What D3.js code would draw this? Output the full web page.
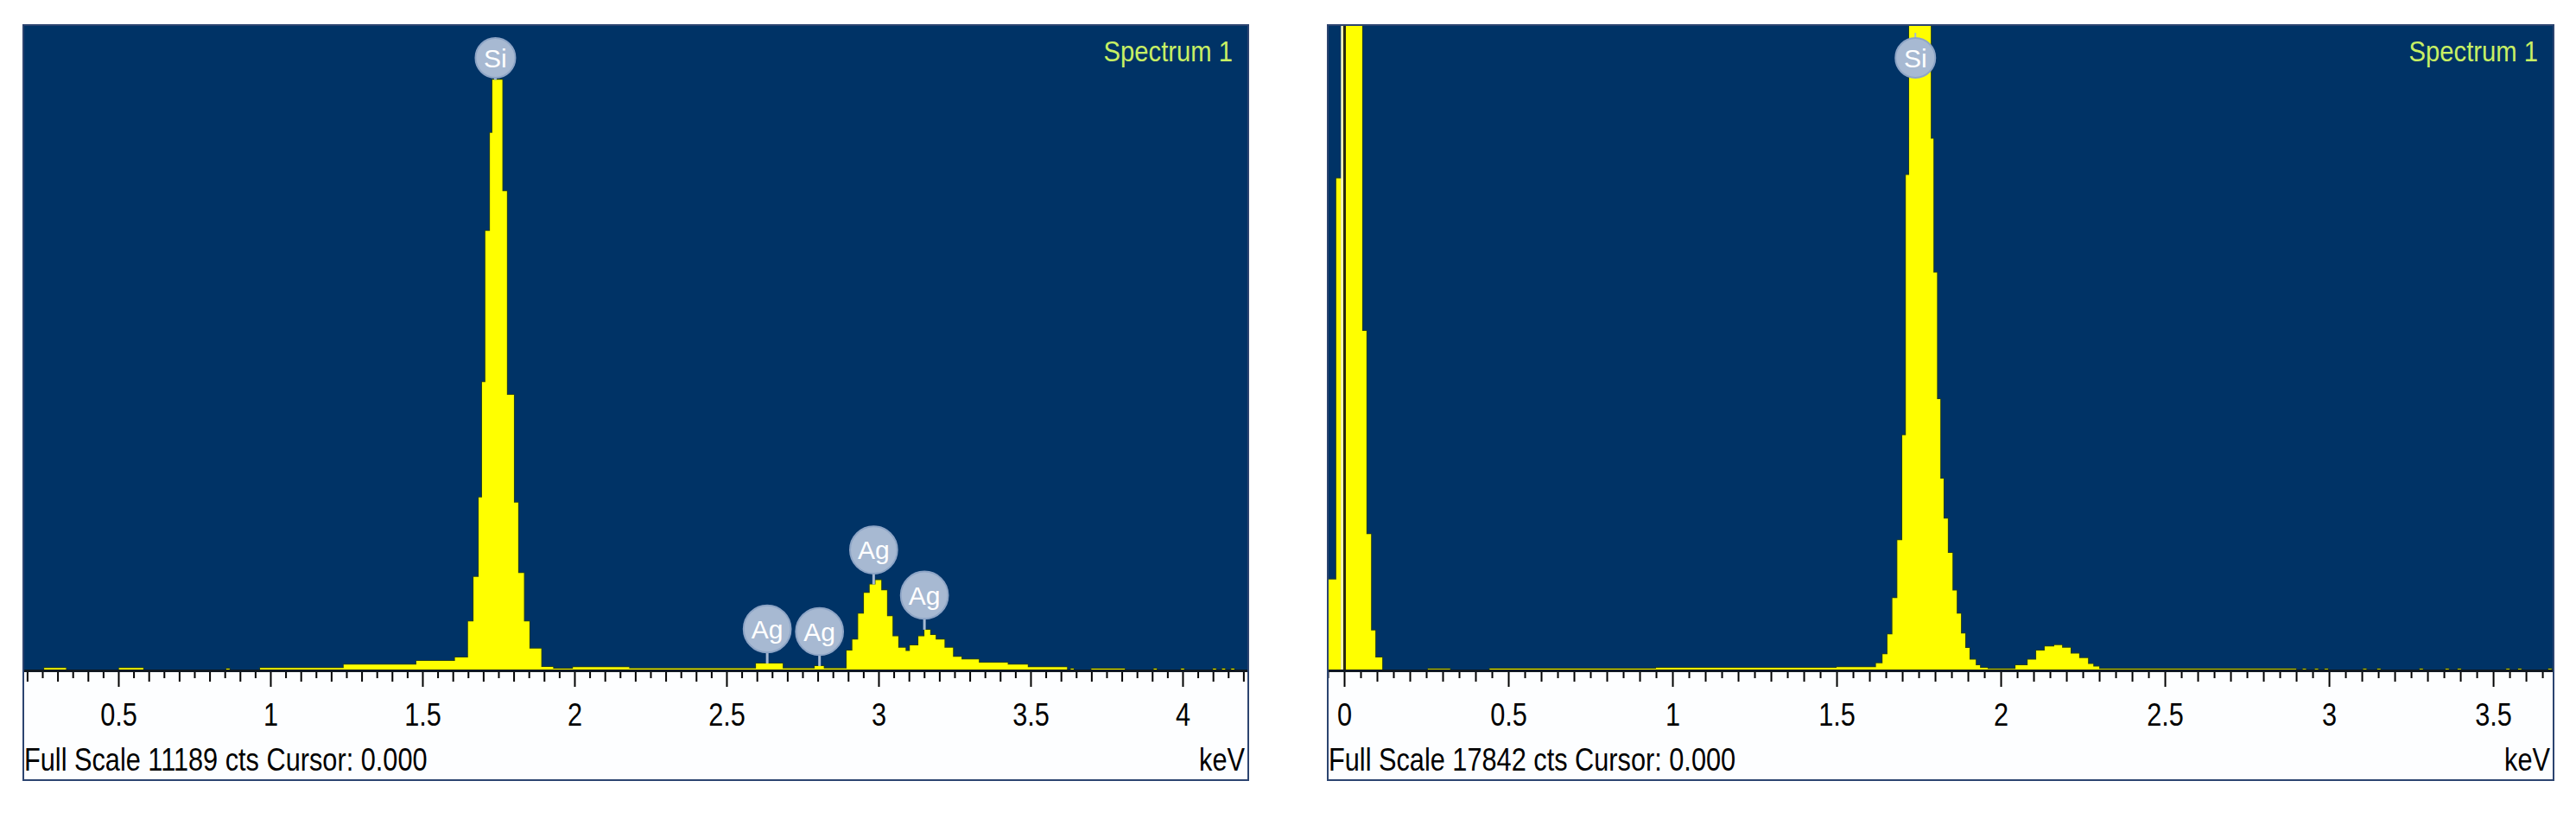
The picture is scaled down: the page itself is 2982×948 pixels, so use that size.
<!DOCTYPE html>
<html>
<head>
<meta charset="utf-8">
<script src="https://cdn.jsdelivr.net/npm/d3@7"></script>
<style>
  body { margin: 0; background: #fff; }
</style>
</head>
<body>
<div id="chart"></div>
<script>
// EDS spectra: channel start energy (keV) and counts

// left spectrum, Full Scale 11189 cts
var leftFullScale = 11189;
var leftKeV = [0.1875, 0.256, 0.328, 0.502, 0.582, 0.855, 0.866, 0.966, 1.241, 1.48,
  1.607, 1.650, 1.668, 1.685, 1.696, 1.707, 1.722, 1.730, 1.763, 1.778,
  1.801, 1.815, 1.834, 1.852, 1.891, 1.93, 1.995, 2.18, 2.597, 2.685,
  2.79, 2.82, 2.895, 2.914, 2.933, 2.952, 2.971, 2.990, 3.009, 3.028,
  3.046, 3.065, 3.089, 3.103, 3.131, 3.151, 3.170, 3.188, 3.217, 3.245,
  3.273, 3.33, 3.425, 3.491, 3.62, 3.632, 3.642, 3.70, 3.81, 3.905,
  3.915, 3.995, 4.005, 4.10, 4.11, 4.13, 4.14, 4.16, 4.17, 4.216];
var leftCounts = [0, 40, 0, 40, 0, 30, 0, 40, 100, 165,
  224, 850, 1620, 3000, 5000, 7620, 9320, 10240, 8310, 4780,
  2910, 1690, 850, 380, 60, 30, 55, 35, 120, 35,
  75, 35, 345, 537, 985, 1343, 1490, 1566, 1390, 940,
  593, 392, 336, 436, 593, 705, 615, 537, 392, 235,
  190, 134, 100, 55, 0, 30, 0, 30, 0, 30,
  0, 30, 0, 30, 0, 30, 0, 30, 0, 0];
var leftLabelNames = ["Si", "Ag", "Ag", "Ag", "Ag"];
var leftLabelKeV = [1.740, 2.634, 2.806, 2.984, 3.151];
var leftTicks = [0.5, 1, 1.5, 2, 2.5, 3, 3.5, 4];

// right spectrum, Full Scale 17842 cts
var rightFullScale = 17842;
var rightKeV = [-0.05, -0.024, -0.005, 0.055, 0.068, 0.082, 0.095, 0.116, 0.255, 0.323,
  0.443, 0.95, 1.50, 1.62, 1.64, 1.655, 1.67, 1.685, 1.70, 1.711,
  1.721, 1.787, 1.795, 1.806, 1.816, 1.826, 1.839, 1.853, 1.866, 1.879,
  1.892, 1.905, 1.924, 1.937, 1.96, 2.045, 2.082, 2.108, 2.134, 2.163,
  2.187, 2.213, 2.239, 2.266, 2.282, 2.30, 2.90, 2.92, 2.93, 2.957,
  2.967, 2.987, 2.997, 3.104, 3.114, 3.147, 3.157, 3.276, 3.286, 3.355,
  3.365, 3.392, 3.402, 3.54, 3.55, 3.576, 3.586, 3.668, 3.678, 3.684];
var rightCounts = [2516, 13600, 30000, 9385, 3765, 1106, 357, 0, 40, 0,
  45, 70, 90, 200, 450, 1000, 2000, 3600, 6500, 13700,
  30000, 14700, 11000, 7500, 5300, 4200, 3250, 2210, 1570, 1020,
  620, 300, 145, 70, 40, 145, 300, 550, 660, 700,
  625, 465, 340, 180, 105, 40, 0, 40, 0, 40,
  0, 40, 0, 40, 0, 40, 0, 40, 0, 40,
  0, 40, 0, 40, 0, 40, 0, 40, 0, 0];
var rightLabelNames = ["Si"];
var rightLabelKeV = [1.740];
var rightTicks = [0, 0.5, 1, 1.5, 2, 2.5, 3, 3.5];

var cursorKeV = 0.000;
var spectrumName = "Spectrum 1";

var W = 2982, H = 948;
var plotTop = 29, axisY = 776, boxBottom = 903;
var font = "'Liberation Sans', Arial, sans-serif";

var svg = d3.select("#chart").append("svg")
  .attr("width", W)
  .attr("height", H)
  .style("display", "block");

svg.append("rect").attr("width", W).attr("height", H).attr("fill", "#ffffff");

// narrow looking text (the original uses a condensed UI font)
function narrowText(g, x, y, str, size, sx, color, anchor) {
  return g.append("text")
    .attr("transform", "translate(" + x + "," + y + ") scale(" + sx + ",1)")
    .attr("text-anchor", anchor)
    .attr("font-family", font)
    .attr("font-size", size)
    .attr("fill", color)
    .text(str);
}

var panels = [
  {x0: 27, x1: 1445, keV0: 0.1875, keV1: 4.216, energy: leftKeV, counts: leftCounts,
   full: leftFullScale, ticks: leftTicks, names: leftLabelNames, lines: leftLabelKeV},
  {x0: 1537, x1: 2956, keV0: -0.05, keV1: 3.684, energy: rightKeV, counts: rightCounts,
   full: rightFullScale, ticks: rightTicks, names: rightLabelNames, lines: rightLabelKeV}
];

panels.forEach(function(p, i) {
  var g = svg.append("g");

  var x = d3.scaleLinear().domain([p.keV0, p.keV1]).range([p.x0, p.x1]);
  var y = d3.scaleLinear().domain([0, p.full]).range([axisY, plotTop]);

  // blue plot background
  g.append("rect")
    .attr("x", p.x0).attr("y", plotTop)
    .attr("width", p.x1 - p.x0).attr("height", axisY - plotTop)
    .attr("fill", "#003366");

  g.append("clipPath").attr("id", "clip" + i)
    .append("rect")
    .attr("x", p.x0).attr("y", plotTop)
    .attr("width", p.x1 - p.x0).attr("height", axisY - plotTop);

  var data = p.energy.map(function(e, j) { return {e: e, c: p.counts[j]}; });

  var area = d3.area()
    .curve(d3.curveStepAfter)
    .x(function(d) { return x(d.e); })
    .y0(axisY)
    .y1(function(d) { return y(d.c); });

  g.append("path")
    .datum(data)
    .attr("d", area)
    .attr("fill", "#ffff00")
    .attr("stroke", "#24401f")
    .attr("stroke-width", 2)
    .attr("stroke-linejoin", "round")
    .attr("paint-order", "stroke")
    .attr("clip-path", "url(#clip" + i + ")");

  // cursor
  if (cursorKeV >= p.keV0 && cursorKeV <= p.keV1) {
    var cx = x(cursorKeV);
    g.append("line")
      .attr("x1", cx - 2.5).attr("x2", cx - 2.5)
      .attr("y1", plotTop).attr("y2", axisY)
      .attr("stroke", "#f2f2c8").attr("stroke-width", 2.5);
    g.append("line")
      .attr("x1", cx + 0.5).attr("x2", cx + 0.5)
      .attr("y1", plotTop).attr("y2", axisY)
      .attr("stroke", "#2a2a12").attr("stroke-width", 3);
  }

  // element labels
  p.names.forEach(function(name, k) {
    var j = d3.bisectRight(p.energy, p.lines[k]) - 1;
    var py = Math.max(y(p.counts[j]), plotTop);
    var lx = x(p.lines[k]);
    var lab = g.append("g");
    var t = lab.append("text")
      .attr("x", lx)
      .attr("text-anchor", "middle")
      .attr("font-family", font)
      .attr("font-size", 30)
      .attr("fill", "#ffffff")
      .text(name);
    var r = Math.max(23, t.node().getComputedTextLength() / 2 + 9);
    var cy = Math.max(py - 40, 67);
    t.attr("y", cy).attr("dy", "0.36em");
    if (py > cy + r) {
      lab.insert("line", "text")
        .attr("x1", lx).attr("x2", lx)
        .attr("y1", cy + r - 2).attr("y2", py)
        .attr("stroke", "#a7b9d2").attr("stroke-width", 3);
    } else {
      lab.insert("line", "text")
        .attr("x1", lx).attr("x2", lx)
        .attr("y1", cy - r - 6).attr("y2", cy - r + 2)
        .attr("stroke", "#a7b9d2").attr("stroke-width", 2);
    }
    lab.insert("circle", "text")
      .attr("cx", lx).attr("cy", cy).attr("r", r)
      .attr("fill", "#a7b9d2")
      .attr("stroke", "#8ea5c6")
      .attr("stroke-width", 2);
  });

  narrowText(g, p.x1 - 18, 71, spectrumName, 34, 0.86, "#c8f064", "end");

  // white axis box
  g.append("rect")
    .attr("x", p.x0).attr("y", axisY)
    .attr("width", p.x1 - p.x0).attr("height", boxBottom - axisY)
    .attr("fill", "#fdfeff");

  // ticks: every 0.05 keV, taller every 0.1, labelled every 0.5
  var minor = [], mid = [];
  for (var k = Math.ceil(p.keV0 / 0.05); k * 0.05 <= p.keV1; k++) {
    if (k % 10 === 0) continue;
    var v = +(k * 0.05).toFixed(2);
    if (k % 2 === 0) mid.push(v); else minor.push(v);
  }

  var ax = g.append("g").attr("transform", "translate(0," + (axisY + 1) + ")");

  ax.append("g")
    .call(d3.axisBottom(x).tickValues(minor).tickSize(8).tickSizeOuter(0).tickFormat(""))
    .call(function(s) { s.select(".domain").remove(); });
  ax.append("g")
    .call(d3.axisBottom(x).tickValues(mid).tickSize(12).tickSizeOuter(0).tickFormat(""))
    .call(function(s) { s.select(".domain").remove(); });
  var major = ax.append("g")
    .call(d3.axisBottom(x).tickValues(p.ticks).tickSize(18).tickSizeOuter(0)
      .tickFormat(function(d) { return String(d); }))
    .call(function(s) { s.select(".domain").remove(); });

  ax.selectAll(".tick line").attr("stroke", "#000").attr("stroke-width", 2);

  major.attr("font-family", font).attr("font-size", 37);
  major.selectAll(".tick text")
    .attr("y", 63)
    .attr("dy", 0)
    .attr("fill", "#000")
    .attr("transform", "scale(0.83,1)");

  // axis line
  g.append("line")
    .attr("x1", p.x0).attr("x2", p.x1)
    .attr("y1", axisY + 0.5).attr("y2", axisY + 0.5)
    .attr("stroke", "#101820").attr("stroke-width", 3);

  narrowText(g, p.x0 + 1, 892,
    "Full Scale " + p.full + " cts Cursor: " + cursorKeV.toFixed(3), 37, 0.83, "#000", "start");
  narrowText(g, p.x1 - 4, 892, "keV", 37, 0.83, "#000", "end");

  // frame
  g.append("rect")
    .attr("x", p.x0).attr("y", plotTop)
    .attr("width", p.x1 - p.x0).attr("height", boxBottom - plotTop)
    .attr("fill", "none")
    .attr("stroke", "#2c4470")
    .attr("stroke-width", 2);
});
</script>
</body>
</html>
